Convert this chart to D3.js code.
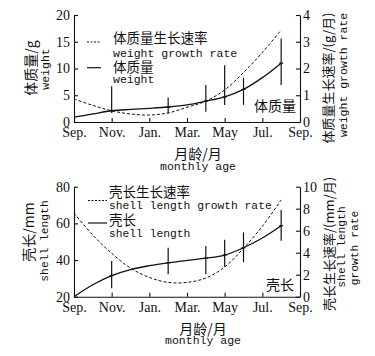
<!DOCTYPE html>
<html>
<head>
<meta charset="utf-8">
<script src="https://cdn.jsdelivr.net/npm/d3@7"></script>
<style>
  body { margin: 0; background: #fff; }
  text { fill: #111; }
  .cjk { font-family: "Noto Sans CJK SC", sans-serif; }
  .mono { font-family: "Liberation Mono", monospace; }
  .tick text { font-family: "Liberation Serif", serif; font-size: 14px; }
</style>
</head>
<body>
<div id="chart"></div>
<script>
// x axis: months since September
const tickMonths = [0, 2, 4, 6, 8, 10, 12];
const tickLabels = ["Sep.", "Nov.", "Jan.", "Mar.", "May", "Jul.", "Sep."];
const curveMonths = [0, 1, 2, 3, 4, 5, 6, 7, 8, 9, 10, 11];
const sampleMonths = [2, 5, 7, 8, 9, 11];

// weight panel
const weight = [0.9, 1.5, 2.1, 2.35, 2.55, 2.8, 3.2, 3.9, 4.7, 6.1, 8.3, 11.0];
const weightRate = [0.86, 0.62, 0.42, 0.30, 0.26, 0.34, 0.55, 0.78, 1.2, 1.85, 2.6, 3.44];
const weightMean = [2.1, 2.8, 3.9, 4.7, 6.1, 11.0];
const weightHigh = [6.7, 4.6, 6.9, 10.6, 8.3, 15.6];
const weightLow = [1.7, 1.6, 1.9, 3.2, 3.2, 6.9];

// shell length panel
const shell = [20, 26.5, 31.5, 34.8, 36.9, 38.5, 39.8, 41.0, 42.7, 46.7, 52, 58.7];
const shellRate = [7.6, 5.6, 3.95, 2.6, 1.75, 1.3, 1.3, 1.7, 2.7, 4.4, 6.4, 8.8];
const shellMean = [31.5, 38.5, 41.0, 42.7, 46.7, 58.7];
const shellHigh = [39.5, 46.7, 47.7, 51, 55.1, 67.3];
const shellLow = [24.6, 32.2, 32.2, 36.4, 38.8, 50.5];

const width = 375, height = 356;
const svg = d3.select("#chart").append("svg")
  .attr("width", width).attr("height", height);

const x = d3.scaleLinear().domain([0, 12]).range([74, 300]);

function panel(p) {
  const yL = d3.scaleLinear().domain(p.leftDomain).range([p.bottom, p.top]);
  const yR = d3.scaleLinear().domain(p.rightDomain).range([p.bottom, p.top]);
  const g = svg.append("g");

  // axes, ticks pointing inward
  const ax = g.append("g").attr("transform", `translate(0,${p.bottom})`)
    .call(d3.axisBottom(x).tickValues(tickMonths)
      .tickFormat((d, i) => tickLabels[i]).tickSizeInner(-4).tickSizeOuter(0).tickPadding(5));
  const al = g.append("g").attr("transform", `translate(${x(0)},0)`)
    .call(d3.axisLeft(yL).tickValues(p.leftTicks).tickFormat(d3.format("d"))
      .tickSizeInner(-4).tickSizeOuter(0).tickPadding(4));
  const ar = g.append("g").attr("transform", `translate(${x(12)},0)`)
    .call(d3.axisRight(yR).tickValues(p.rightTicks).tickFormat(d3.format("d"))
      .tickSizeInner(-4).tickSizeOuter(0).tickPadding(3));
  [ax, al, ar].forEach(a => {
    a.selectAll("path, line").attr("stroke", "#111").attr("stroke-width", 1.1);
    a.selectAll("text").attr("fill", "#111");
  });

  // curves
  const solid = d3.line().x((d, i) => x(curveMonths[i])).y(d => yL(d)).curve(d3.curveCatmullRom);
  const dashed = d3.line().x((d, i) => x(curveMonths[i])).y(d => yR(d)).curve(d3.curveCatmullRom);
  g.append("path").attr("d", dashed(p.rate)).attr("fill", "none")
    .attr("stroke", "#111").attr("stroke-width", 1).attr("stroke-dasharray", "3,2");
  g.append("path").attr("d", solid(p.value)).attr("fill", "none")
    .attr("stroke", "#111").attr("stroke-width", 1.3);

  // error bars
  g.selectAll(".err").data(sampleMonths).join("line")
    .attr("x1", d => x(d)).attr("x2", d => x(d))
    .attr("y1", (d, i) => yL(p.high[i])).attr("y2", (d, i) => yL(p.low[i]))
    .attr("stroke", "#111").attr("stroke-width", 1.2);
  g.selectAll(".mean").data(sampleMonths).join("line")
    .attr("x1", d => x(d) - 2).attr("x2", d => x(d) + 2)
    .attr("y1", (d, i) => yL(p.mean[i])).attr("y2", (d, i) => yL(p.mean[i]))
    .attr("stroke", "#111").attr("stroke-width", 1.2);

  // legend
  const lg = p.legend;
  g.append("line").attr("x1", lg.x0).attr("x2", lg.x1).attr("y1", lg.dashY).attr("y2", lg.dashY)
    .attr("stroke", "#111").attr("stroke-width", 1).attr("stroke-dasharray", "2,1.5");
  g.append("line").attr("x1", lg.x0).attr("x2", lg.x1).attr("y1", lg.solidY).attr("y2", lg.solidY)
    .attr("stroke", "#111").attr("stroke-width", 1.2);
  lg.texts.forEach(t => {
    g.append("text").attr("class", t.cls).attr("x", lg.tx).attr("y", t.y)
      .attr("font-size", t.size).text(t.s);
  });

  // axis titles
  p.titles.forEach(t => {
    g.append("text").attr("class", t.cls).attr("font-size", t.size)
      .attr("text-anchor", "middle").attr("dominant-baseline", t.rot ? "central" : null)
      .attr("transform", t.rot ? `translate(${t.x},${t.y}) rotate(-90)` : `translate(${t.x},${t.y})`)
      .text(t.s);
  });
}

panel({
  top: 15, bottom: 122,
  leftDomain: [0, 20], rightDomain: [0, 4],
  leftTicks: [0, 5, 10, 15, 20], rightTicks: [0, 1, 2, 3, 4],
  value: weight, rate: weightRate,
  mean: weightMean, high: weightHigh, low: weightLow,
  legend: {
    x0: 87, x1: 101, dashY: 42, solidY: 67.7, tx: 113,
    texts: [
      { s: "体质量生长速率", y: 43, size: 13.5, cls: "cjk" },
      { s: "weight growth rate", y: 56.5, size: 11.5, cls: "mono" },
      { s: "体质量", y: 71.5, size: 13.5, cls: "cjk" },
      { s: "weight", y: 82.5, size: 11.5, cls: "mono" }
    ]
  },
  titles: [
    { s: "体质量/g", x: 30, y: 68, size: 14, cls: "cjk", rot: true },
    { s: "weight", x: 45, y: 69, size: 11.5, cls: "mono", rot: true },
    { s: "体质量生长速率/(g/月)", x: 327, y: 78, size: 13, cls: "cjk", rot: true },
    { s: "weight growth rate", x: 343, y: 75, size: 11.5, cls: "mono", rot: true },
    { s: "月龄/月", x: 198, y: 159, size: 14, cls: "cjk" },
    { s: "monthly age", x: 198, y: 169.5, size: 11.5, cls: "mono" },
    { s: "体质量", x: 275, y: 111, size: 14, cls: "cjk" }
  ]
});

panel({
  top: 186.7, bottom: 296.7,
  leftDomain: [20, 80], rightDomain: [0, 10],
  leftTicks: [20, 40, 60, 80], rightTicks: [0, 2, 4, 6, 8, 10],
  value: shell, rate: shellRate,
  mean: shellMean, high: shellHigh, low: shellLow,
  legend: {
    x0: 88, x1: 107, dashY: 200.5, solidY: 223, tx: 109,
    texts: [
      { s: "壳长生长速率", y: 197, size: 13.5, cls: "cjk" },
      { s: "shell length growth rate", y: 208.5, size: 11.3, cls: "mono" },
      { s: "壳长", y: 224.5, size: 13.5, cls: "cjk" },
      { s: "shell length", y: 237, size: 11.3, cls: "mono" }
    ]
  },
  titles: [
    { s: "壳长/mm", x: 28, y: 232, size: 14, cls: "cjk", rot: true },
    { s: "shell length", x: 45, y: 241, size: 11.3, cls: "mono", rot: true },
    { s: "壳长生长速率/(mm/月)", x: 328, y: 244, size: 13, cls: "cjk", rot: true },
    { s: "shell length", x: 342, y: 247, size: 11.3, cls: "mono", rot: true },
    { s: "growth rate", x: 355, y: 248, size: 11.3, cls: "mono", rot: true },
    { s: "月龄/月", x: 203, y: 334, size: 14, cls: "cjk" },
    { s: "monthly age", x: 203, y: 344, size: 11.5, cls: "mono" },
    { s: "壳长", x: 280, y: 290, size: 14, cls: "cjk" }
  ]
});
</script>
</body>
</html>
